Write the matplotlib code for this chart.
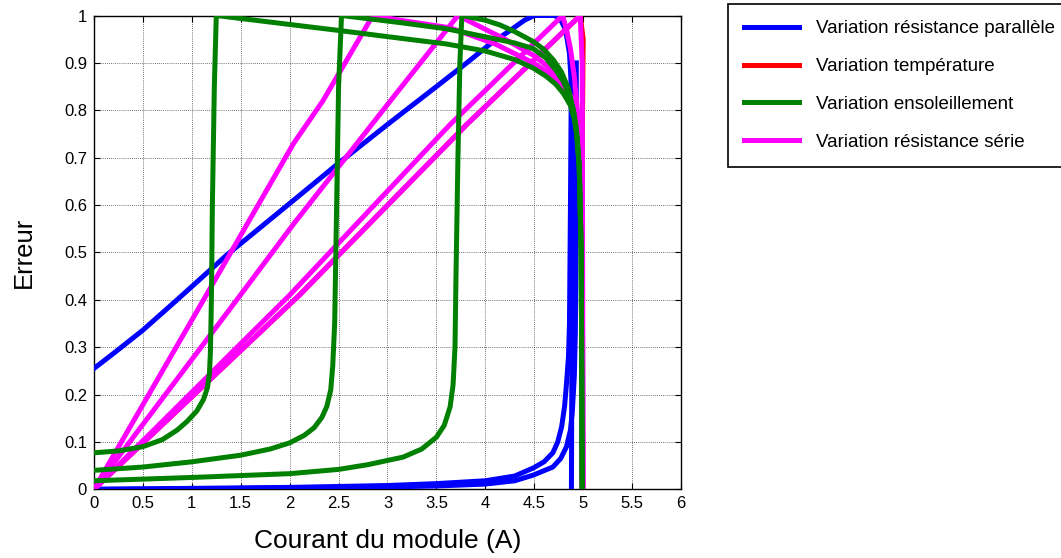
import matplotlib
matplotlib.use("Agg")
import matplotlib.pyplot as plt

plt.rcParams['font.family'] = ['Liberation Sans', 'DejaVu Sans']

# blue : variation resistance parallele
blue_top_x = [0, 0.25, 0.5, 0.85, 1.36, 2.04, 2.51, 3.0, 3.5, 3.81, 4.05, 4.25, 4.4, 4.5, 4.7, 4.76, 4.82, 4.86, 4.88, 4.89, 4.88]
blue_top_y = [0.255, 0.295, 0.336, 0.4, 0.495, 0.61, 0.69, 0.77, 0.85, 0.9, 0.94, 0.968, 0.99, 1.0, 1.0, 0.995, 0.97, 0.92, 0.85, 0.6, 0.0]
blue_low1_x = [0, 1, 2, 3, 3.5, 4.0, 4.3, 4.49, 4.6, 4.69, 4.74, 4.78, 4.81, 4.83, 4.85, 4.86, 4.87, 4.88]
blue_low1_y = [0, 0.002, 0.004, 0.008, 0.012, 0.018, 0.028, 0.045, 0.058, 0.077, 0.1, 0.132, 0.175, 0.224, 0.28, 0.35, 0.6, 0.9]
blue_low2_x = [0, 1, 2, 3, 3.5, 4.0, 4.3, 4.49, 4.69, 4.77, 4.83, 4.87, 4.89, 4.91, 4.92, 4.93, 4.93]
blue_low2_y = [0, 0.001, 0.003, 0.005, 0.007, 0.011, 0.018, 0.03, 0.047, 0.065, 0.09, 0.125, 0.167, 0.24, 0.33, 0.6, 0.9]

# red : variation temperature (almost fully covered)
red_x = [0, 2.1, 3.81, 4.97, 5.0, 4.99, 4.99]
red_y = [0, 0.41, 0.77, 1.0, 0.95, 0.7, 0.0]

# magenta : variation resistance serie
mag1_x = [0, 1.12, 2.04, 2.34, 2.85, 3.13, 3.64, 4.1, 4.49, 4.65, 4.76, 4.85, 4.9, 4.94, 4.97, 4.99, 4.99]
mag1_y = [0, 0.40, 0.73, 0.82, 1.0, 0.99, 0.974, 0.94, 0.90, 0.878, 0.86, 0.835, 0.81, 0.77, 0.7, 0.5, 0.0]
mag2_x = [0, 1.46, 2.04, 3.03, 3.72, 4.2, 4.5, 4.65, 4.75, 4.85, 4.9, 4.94, 4.97, 4.99, 5.0]
mag2_y = [0, 0.40, 0.56, 0.82, 1.0, 0.95, 0.915, 0.89, 0.87, 0.84, 0.82, 0.78, 0.7, 0.5, 0.0]
mag3_x = [0, 2.0, 3.64, 4.79, 4.83, 4.87, 4.91, 4.94, 4.97, 4.99, 4.99]
mag3_y = [0, 0.41, 0.77, 1.0, 0.97, 0.93, 0.87, 0.8, 0.7, 0.5, 0.0]
mag4_x = [0, 2.1, 3.81, 4.97, 4.99, 5.0]
mag4_y = [0, 0.41, 0.77, 1.0, 0.9, 0.0]

# green : variation ensoleillement
gr1_x = [0, 0.25, 0.5, 0.7, 0.85, 0.95, 1.05, 1.12, 1.16, 1.18, 1.19, 1.2, 1.21, 1.23, 1.25,
         2.48, 3.13, 3.6, 4.0, 4.3, 4.49, 4.62, 4.72, 4.8, 4.87, 4.91, 4.94, 4.96, 4.98, 4.99]
gr1_y = [0.077, 0.081, 0.09, 0.105, 0.125, 0.143, 0.165, 0.19, 0.215, 0.245, 0.29, 0.4, 0.6, 0.85, 1.0,
         0.969, 0.952, 0.94, 0.925, 0.907, 0.889, 0.872, 0.855, 0.835, 0.81, 0.78, 0.74, 0.68, 0.5, 0.0]
gr2_x = [0, 0.5, 1.0, 1.5, 1.8, 2.0, 2.15, 2.25, 2.33, 2.38, 2.42, 2.44, 2.46, 2.48, 2.5, 2.53,
         3.13, 3.6, 4.0, 4.3, 4.49, 4.62, 4.72, 4.8, 4.86, 4.9, 4.93, 4.96, 4.98, 4.99]
gr2_y = [0.04, 0.047, 0.058, 0.072, 0.085, 0.098, 0.114, 0.13, 0.152, 0.175, 0.21, 0.26, 0.35, 0.6, 0.85, 1.0,
         0.985, 0.972, 0.955, 0.942, 0.93, 0.91, 0.885, 0.86, 0.83, 0.8, 0.76, 0.68, 0.5, 0.0]
gr3_x = [0, 1.0, 2.0, 2.5, 2.8, 3.16, 3.35, 3.5, 3.58, 3.64, 3.67, 3.69, 3.7, 3.72, 3.74, 3.76,
         4.0, 4.15, 4.3, 4.49, 4.6, 4.7, 4.78, 4.85, 4.9, 4.93, 4.96, 4.98, 4.99]
gr3_y = [0.018, 0.025, 0.033, 0.042, 0.052, 0.068, 0.085, 0.11, 0.135, 0.174, 0.22, 0.3, 0.45, 0.7, 0.9, 1.0,
         0.99, 0.98, 0.966, 0.945, 0.928, 0.905, 0.88, 0.845, 0.8, 0.76, 0.68, 0.5, 0.0]

labels = ['Variation résistance parallèle', 'Variation température',
          'Variation ensoleillement', 'Variation résistance série']

fig = plt.figure(figsize=(10.61, 5.58), dpi=100)
ax = fig.add_axes([94/1061, 1-489.3/558, 587/1061, 473.8/558])

lw = 3.6
for xs, ys in [(blue_top_x, blue_top_y), (blue_low1_x, blue_low1_y), (blue_low2_x, blue_low2_y)]:
    hb, = ax.plot(xs, ys, color='#0000ff', lw=lw, zorder=3)
hr, = ax.plot(red_x, red_y, color='#ff0000', lw=lw, zorder=3)
for xs, ys in [(mag1_x, mag1_y), (mag2_x, mag2_y), (mag3_x, mag3_y), (mag4_x, mag4_y)]:
    hm, = ax.plot(xs, ys, color='#ff00ff', lw=lw, zorder=4)
for xs, ys in [(gr1_x, gr1_y), (gr2_x, gr2_y), (gr3_x, gr3_y)]:
    hg, = ax.plot(xs, ys, color='#008000', lw=lw, zorder=5)

ax.set_xlim(0, 6)
ax.set_ylim(0, 1)
ax.set_xticks([i*0.5 for i in range(13)])
ax.set_xticklabels(['0', '0.5', '1', '1.5', '2', '2.5', '3', '3.5', '4', '4.5', '5', '5.5', '6'])
ax.set_yticks([i*0.1 for i in range(11)])
ax.set_yticklabels(['0', '0.1', '0.2', '0.3', '0.4', '0.5', '0.6', '0.7', '0.8', '0.9', '1'])
ax.grid(True, color='#444444', linestyle=(0, (1, 1.5)), linewidth=0.6)
ax.tick_params(direction='in', top=True, right=True, length=4, labelsize=12, pad=5)
for s in ax.spines.values():
    s.set_linewidth(1.0)
ax.set_xlabel('Courant du module (A)', fontsize=19, labelpad=13)
ax.set_ylabel('Erreur', fontsize=18.5, labelpad=20)

leg = fig.legend([hb, hr, hg, hm], labels, loc='upper left',
                 bbox_to_anchor=(727.7/1061, 1-4.3/558), borderaxespad=0,
                 fontsize=13.5, handlelength=2.95, handletextpad=0.9,
                 borderpad=0.85, labelspacing=1.1, fancybox=False,
                 edgecolor='black', framealpha=1)
leg.get_frame().set_linewidth(1.2)

fig.savefig('out.png', dpi=100)
